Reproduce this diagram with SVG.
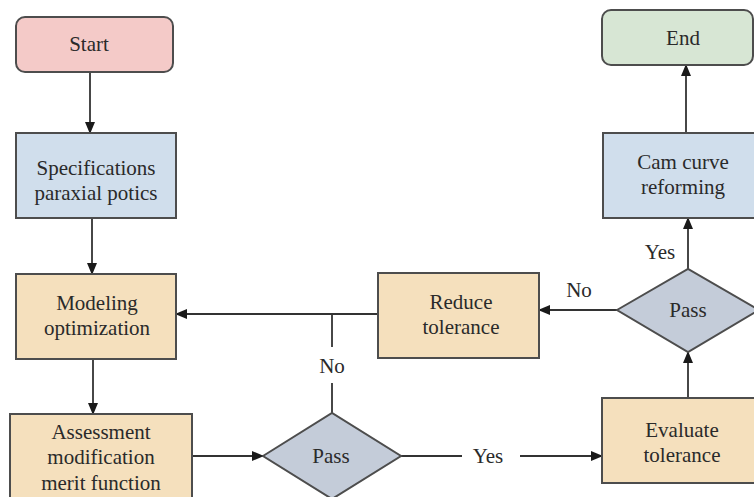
<svg xmlns="http://www.w3.org/2000/svg" width="754" height="497" viewBox="0 0 754 497">
<defs>
<marker id="ah" markerWidth="12" markerHeight="10" refX="11" refY="5" orient="auto" markerUnits="userSpaceOnUse">
<path d="M0,0 L12,5 L0,10 Z" fill="#1a1a1a"/>
</marker>
<style>
.box{stroke:#4d4d4d;stroke-width:2}
.tan{fill:#f5e0bd}
.blue{fill:#d0deec}
.dia{fill:#c4ccd9;stroke:#4d4d4d;stroke-width:2}
.t{font-size:21px;fill:#2a2a2a;text-anchor:middle}
.ln{stroke:#333;stroke-width:1.8;fill:none}
</style>
</defs>
<rect width="754" height="497" fill="#ffffff"/>
<g id="connectors">
<line class="ln" x1="90" y1="72" x2="90" y2="133" marker-end="url(#ah)"/>
<line class="ln" x1="92" y1="218" x2="92" y2="274" marker-end="url(#ah)"/>
<line class="ln" x1="93" y1="359" x2="93" y2="414" marker-end="url(#ah)"/>
<line class="ln" x1="191" y1="456" x2="263" y2="456" marker-end="url(#ah)"/>
<line class="ln" x1="401" y1="456" x2="462" y2="456"/>
<line class="ln" x1="520" y1="456" x2="602" y2="456" marker-end="url(#ah)"/>
<line class="ln" x1="688" y1="398" x2="688" y2="352" marker-end="url(#ah)"/>
<line class="ln" x1="617" y1="310" x2="539" y2="310" marker-end="url(#ah)"/>
<line class="ln" x1="688" y1="269" x2="688" y2="218" marker-end="url(#ah)"/>
<line class="ln" x1="686" y1="133" x2="686" y2="65" marker-end="url(#ah)"/>
<line class="ln" x1="378" y1="314" x2="176" y2="314" marker-end="url(#ah)"/>
<line class="ln" x1="332" y1="413" x2="332" y2="383"/>
<line class="ln" x1="332" y1="347" x2="332" y2="314"/>
<g font-family="Liberation Serif, serif">
<text class="t" x="332" y="373">No</text>
<text class="t" x="579" y="297">No</text>
<text class="t" x="488" y="463">Yes</text>
<text class="t" x="660" y="259">Yes</text>
</g>
</g>
<g font-family="Liberation Serif, serif">
<g id="start">
<rect class="box" x="16" y="17" width="157" height="55" rx="9" fill="#f4cac8"/>
<text class="t" x="89" y="51">Start</text>
</g>
<g id="specs">
<rect class="box blue" x="16" y="133" width="160" height="85"/>
<text class="t" x="96" y="175">Specifications</text>
<text class="t" x="96" y="200">paraxial potics</text>
</g>
<g id="modeling">
<rect class="box tan" x="16" y="274" width="160" height="85"/>
<text class="t" x="97" y="310">Modeling</text>
<text class="t" x="97" y="335">optimization</text>
</g>
<g id="assessment">
<rect class="box tan" x="10" y="414" width="182" height="95"/>
<text class="t" x="101" y="439">Assessment</text>
<text class="t" x="101" y="464">modification</text>
<text class="t" x="101" y="490">merit function</text>
</g>
<g id="pass1">
<polygon class="dia" points="263,456 332,413 401,456 332,499"/>
<text class="t" x="331" y="463">Pass</text>
</g>
<g id="evaluate">
<rect class="box tan" x="602" y="398" width="160" height="85"/>
<text class="t" x="682" y="437">Evaluate</text>
<text class="t" x="682" y="462">tolerance</text>
</g>
<g id="pass2">
<polygon class="dia" points="617,310 688,269 759,310 688,352"/>
<text class="t" x="688" y="317">Pass</text>
</g>
<g id="reduce">
<rect class="box tan" x="378" y="273" width="161" height="85"/>
<text class="t" x="461" y="309">Reduce</text>
<text class="t" x="461" y="334">tolerance</text>
</g>
<g id="cam">
<rect class="box blue" x="603" y="133" width="160" height="85"/>
<text class="t" x="683" y="169">Cam curve</text>
<text class="t" x="683" y="194">reforming</text>
</g>
<g id="end">
<rect class="box" x="602" y="10" width="151" height="55" rx="9" fill="#d7e6d4"/>
<text class="t" x="683" y="45">End</text>
</g>
</g>
</svg>
